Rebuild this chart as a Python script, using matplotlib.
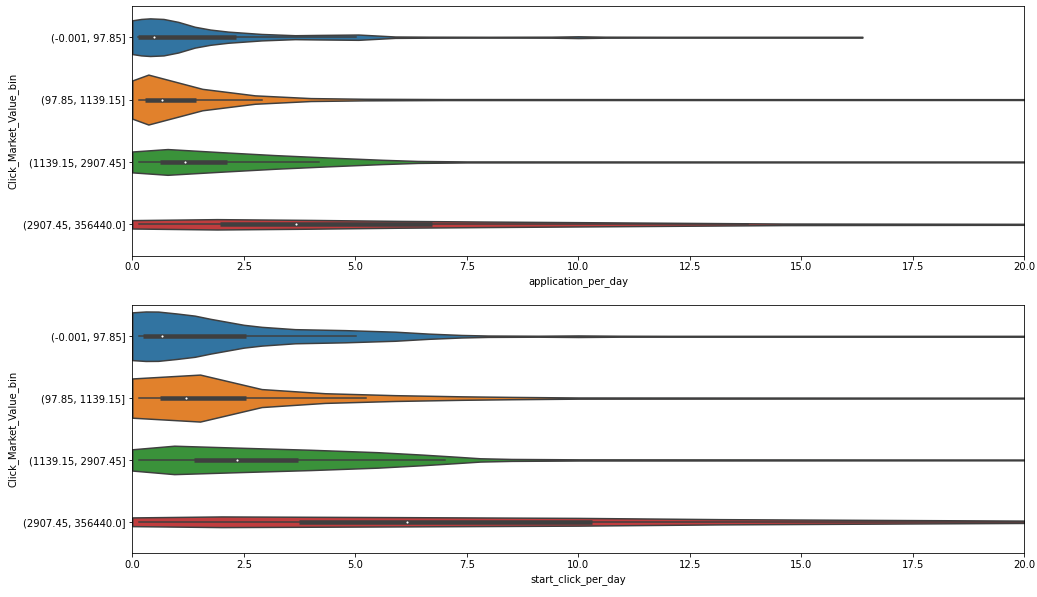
import matplotlib
matplotlib.use("Agg")
import matplotlib.pyplot as plt

CATEGORIES = ["(-0.001, 97.85]", "(97.85, 1139.15]", "(1139.15, 2907.45]", "(2907.45, 356440.0]"]
COLORS = ["#3274a1", "#e1812c", "#3a923a", "#c03d3e"]
GRAY = "#3f3f3f"

# --- application_per_day: violin outline (x, density) ---
APP_X = [
    [0, 0.2, 0.40, 0.7, 1.03, 1.40, 1.75, 2.15, 2.90, 3.65, 4.17, 5.07, 5.89, 6.64, 8.0, 9.4, 10.0, 10.6, 12.0, 16.37],
    [0, 0.36, 1.57, 2.75, 4.0, 5.2, 7.0, 20.0],
    [0, 0.79, 2.0, 3.2, 4.4, 5.6, 6.4, 7.5, 20.0],
    [0, 1.9, 4.0, 6.0, 8.0, 10.0, 12.3, 14.6, 20.0],
]
APP_D = [
    [17.3, 18.7, 19.3, 18.7, 15.7, 10.7, 7.8, 5.7, 3.3, 2.0, 2.3, 2.7, 0.7, 0.5, 0.4, 0.5, 0.9, 0.5, 0.4, 0.4],
    [19.6, 25.6, 11.0, 4.3, 1.5, 0.8, 0.5, 0.4],
    [10.7, 13.2, 10.0, 7.0, 4.5, 2.2, 1.0, 0.5, 0.4],
    [4.3, 5.3, 4.5, 3.5, 2.8, 2.2, 1.5, 0.8, 0.5],
]
# whisker low, q1, median, q3, whisker high
APP_BOX = [
    [0.12, 0.12, 0.49, 2.32, 5.01],
    [0.15, 0.28, 0.66, 1.43, 2.91],
    [0.15, 0.62, 1.18, 2.13, 4.19],
    [0.15, 1.97, 3.66, 6.73, 13.8],
]

# --- start_click_per_day ---
CLICK_X = [
    [0, 0.3, 0.58, 1.0, 1.4, 1.75, 2.15, 2.5, 2.9, 3.65, 4.77, 5.89, 6.64, 7.38, 7.98, 9.1, 10.0, 10.9, 12.0, 20.0],
    [0, 1.52, 2.9, 4.32, 5.89, 7.38, 8.5, 10.0, 20.0],
    [0, 0.94, 2.5, 4.0, 5.5, 6.5, 7.2, 7.8, 8.5, 10.0, 20.0],
    [0, 2.0, 6.0, 10.0, 13.2, 17.7, 20.0],
]
CLICK_D = [
    [24.7, 25.6, 25.5, 23.5, 21.3, 18.0, 14.7, 11.8, 9.7, 7.3, 6.3, 4.7, 2.7, 1.3, 0.7, 0.5, 0.8, 0.5, 0.4, 0.4],
    [20.3, 24.3, 9.3, 5.0, 3.0, 1.8, 1.2, 0.6, 0.4],
    [11.0, 14.7, 12.5, 10.5, 8.0, 5.5, 3.5, 1.7, 1.0, 0.6, 0.4],
    [4.5, 5.5, 4.8, 4.0, 2.7, 1.7, 1.2],
]
CLICK_BOX = [
    [0.15, 0.25, 0.66, 2.55, 5.01],
    [0.15, 0.61, 1.20, 2.54, 5.23],
    [0.15, 1.39, 2.34, 3.72, 7.01],
    [0.15, 3.74, 6.15, 10.3, 20.0],
]


def violins(ax, xs, ds, boxes, xlabel):
    # scale="area": the widest density in the panel gets half-width 0.4
    dmax = max(max(d) for d in ds)
    for i, (x, d, box) in enumerate(zip(xs, ds, boxes)):
        hw = [0.4 * v / dmax for v in d]
        ax.fill_between(x, [i - h for h in hw], [i + h for h in hw],
                        facecolor=COLORS[i], edgecolor=GRAY, linewidth=1.5, zorder=1)
        lo, q1, med, q3, hi = box
        ax.plot([lo, hi], [i, i], color=GRAY, linewidth=1.5, zorder=2)
        ax.plot([q1, q3], [i, i], color=GRAY, linewidth=4.5, zorder=2, solid_capstyle="butt")
        ax.scatter([med], [i], s=9, color="white", edgecolor=GRAY, linewidth=0.8, zorder=3)
    ax.set_xlim(0, 20)
    ax.set_ylim(3.5, -0.5)
    ax.set_yticks(range(len(CATEGORIES)))
    ax.set_yticklabels(CATEGORIES)
    ax.set_xticks([0, 2.5, 5, 7.5, 10, 12.5, 15, 17.5, 20])
    ax.set_xlabel(xlabel)
    ax.set_ylabel("Click_Market_Value_bin")


W, H = 1037, 597
fig = plt.figure(figsize=(W / 72, H / 72), dpi=72)
ax1 = fig.add_axes([132.3 / W, 1 - 255.5 / H, 892 / W, 249.5 / H])
ax2 = fig.add_axes([132.3 / W, 1 - 552.7 / H, 892 / W, 247.4 / H])

violins(ax1, APP_X, APP_D, APP_BOX, "application_per_day")
violins(ax2, CLICK_X, CLICK_D, CLICK_BOX, "start_click_per_day")

fig.savefig("out.png", dpi=72)
